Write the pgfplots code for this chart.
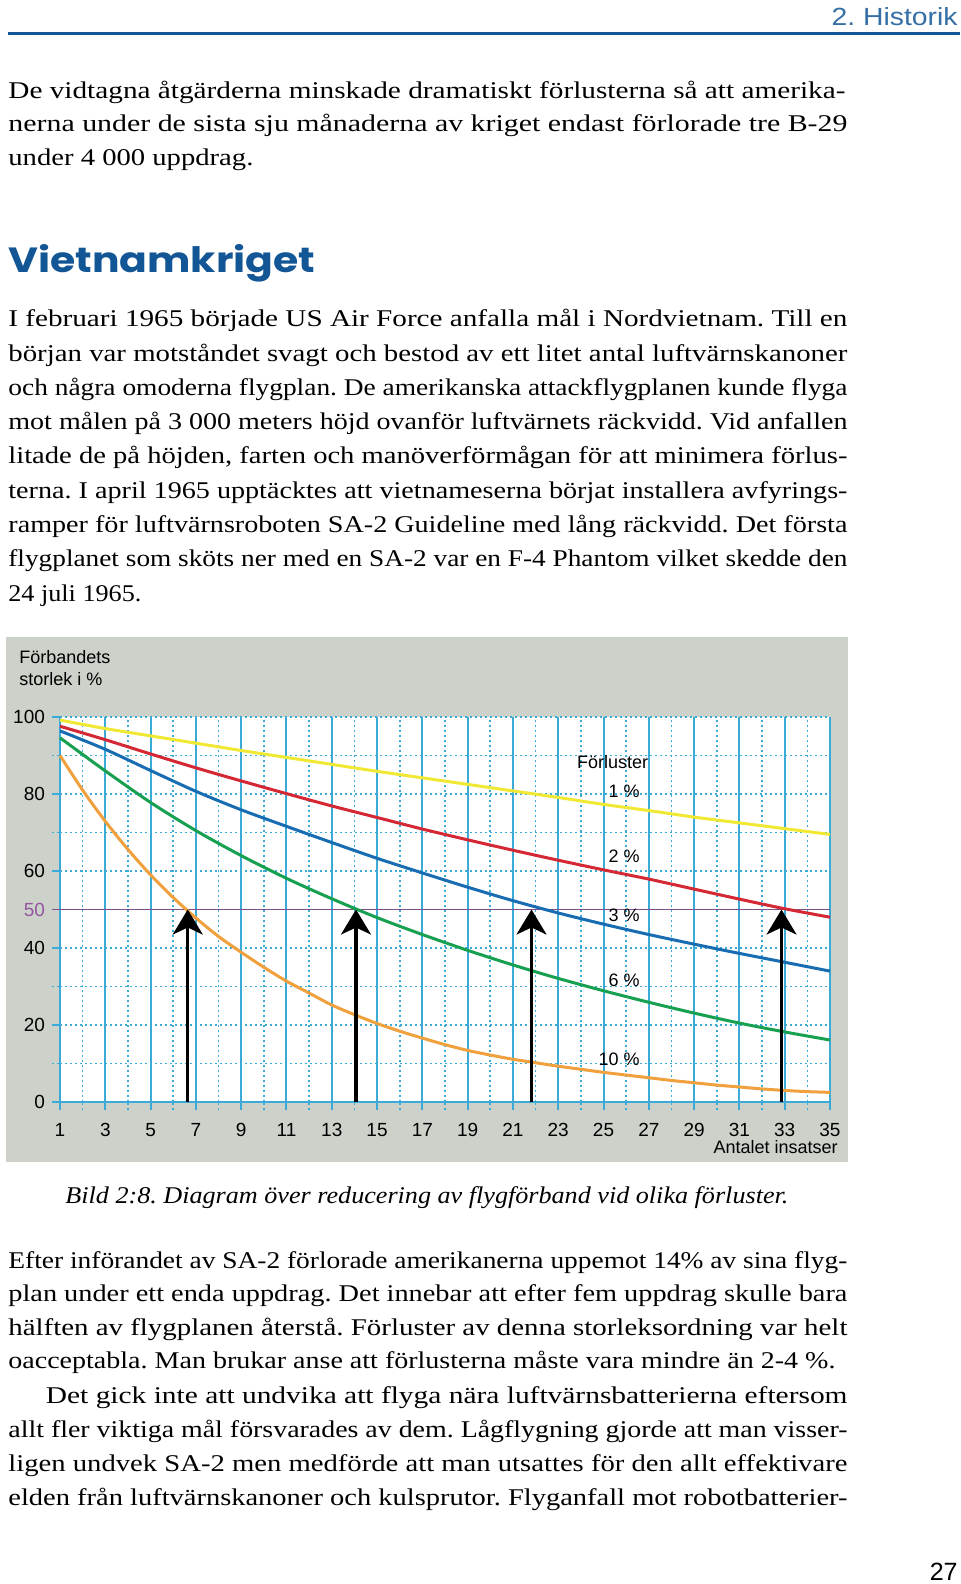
\documentclass[border=0pt]{standalone}
\usepackage{fontspec}
\setmainfont{Liberation Serif}
\setsansfont{Liberation Sans}
\newfontfamily\headfont{Poppins}
\usepackage{graphicx}
\usepackage{pgfplots}
\usepackage{pgfplotstable}
\pgfplotsset{compat=1.18}
\usetikzlibrary{arrows.meta}

\definecolor{bggrey}{RGB}{204,209,202}
\definecolor{gridcyan}{RGB}{60,170,215}
\definecolor{cyel}{RGB}{240,232,50}
\definecolor{cred}{RGB}{212,40,52}
\definecolor{cblue}{RGB}{24,108,178}
\definecolor{cgreen}{RGB}{22,160,80}
\definecolor{corange}{RGB}{240,160,60}
\definecolor{cpurple}{RGB}{125,80,140}
\definecolor{labpurple}{RGB}{150,85,160}
\definecolor{headblue}{RGB}{18,86,150}

\frenchspacing
\newcommand\bodyfont{\fontsize{12pt}{14pt}\selectfont}
% a line of text set to an exact width (scaled horizontally)
\newcommand\jline[2]{\resizebox{#1}{\height}{\bodyfont #2}}

\pgfplotstableread{
x yel red blue green
1 99.2 97.6 96.4 94.6
3 97.0 94.1 91.6 86.0
5 95.1 90.4 86.1 77.8
7 93.2 86.8 80.7 70.5
9 91.3 83.4 75.9 64.0
11 89.5 80.1 71.6 58.1
13 87.7 76.9 67.4 52.8
15 85.9 73.9 63.3 47.9
17 84.2 70.9 59.5 43.5
19 82.5 68.1 55.8 39.4
21 80.8 65.4 52.3 35.6
23 79.1 62.8 49.1 32.1
25 77.3 60.3 46.2 28.9
27 75.7 57.9 43.5 25.9
29 74.0 55.3 41.0 23.1
31 72.5 52.7 38.6 20.5
33 71.0 50.2 36.3 18.2
35 69.5 48.0 34.0 16.1
}\curves

\pgfplotstableread{
x y
1 90.0
2 81.0
3 72.9
4 65.6
5 59.0
6 53.1
7 47.8
8 43.0
9 38.9
10 35.0
11 31.4
12 28.3
13 25.2
14 22.7
15 20.4
16 18.4
17 16.6
18 14.9
19 13.4
20 12.2
21 11.1
22 10.2
23 9.3
24 8.5
25 7.7
26 7.0
27 6.3
28 5.6
29 5.0
30 4.4
31 3.9
32 3.4
33 3.0
34 2.7
35 2.5
}\orange

\begin{document}
\begin{tikzpicture}
\path[use as bounding box] (0,0) rectangle (480pt,-792pt);
\fill[white] (0,0) rectangle (480pt,-792pt);
\begin{scope}[x=0.5pt,y=-0.5pt]
  % header
  \node[anchor=base east, inner sep=0, text=headblue!85!white] at (958,26) {\resizebox{63pt}{9pt}{\sffamily 2. Historik}};
  \draw[headblue, line width=1.5pt] (8,33.5) -- (960,33.5);
  % paragraph 1
  \node[anchor=base west, inner sep=0] at (8,98) {\jline{418.5pt}{De vidtagna åtgärderna minskade dramatiskt förlusterna så att amerika-}};
  \node[anchor=base west, inner sep=0] at (8,131.5) {\jline{419.5pt}{nerna under de sista sju månaderna av kriget endast förlorade tre B-29}};
  \node[anchor=base west, inner sep=0] at (8,165) {\jline{122.5pt}{under 4 000 uppdrag.}};
  % heading
  \node[anchor=base west, inner sep=0, text=headblue] at (8,272) {\resizebox{153.5pt}{\height}{\headfont\bfseries\fontsize{17.5pt}{20pt}\selectfont Vietnamkriget}};
  % paragraph 2
  \node[anchor=base west, inner sep=0] at (8,326.7) {\jline{419.5pt}{I februari 1965 började US Air Force anfalla mål i Nordvietnam. Till en}};
  \node[anchor=base west, inner sep=0] at (8,361) {\jline{419.5pt}{början var motståndet svagt och bestod av ett litet antal luftvärnskanoner}};
  \node[anchor=base west, inner sep=0] at (8,395.3) {\jline{419.5pt}{och några omoderna flygplan. De amerikanska attackflygplanen kunde flyga}};
  \node[anchor=base west, inner sep=0] at (8,429.6) {\jline{419.5pt}{mot målen på 3 000 meters höjd ovanför luftvärnets räckvidd. Vid anfallen}};
  \node[anchor=base west, inner sep=0] at (8,463.9) {\jline{419.5pt}{litade de på höjden, farten och manöverförmågan för att minimera förlus-}};
  \node[anchor=base west, inner sep=0] at (8,498.2) {\jline{419.5pt}{terna. I april 1965 upptäcktes att vietnameserna börjat installera avfyrings-}};
  \node[anchor=base west, inner sep=0] at (8,532.5) {\jline{419.5pt}{ramper för luftvärnsroboten SA-2 Guideline med lång räckvidd. Det första}};
  \node[anchor=base west, inner sep=0] at (8,566.8) {\jline{419.5pt}{flygplanet som sköts ner med en SA-2 var en F-4 Phantom vilket skedde den}};
  \node[anchor=base west, inner sep=0] at (8,601.1) {\jline{66.5pt}{24 juli 1965.}};
  % chart background
  \fill[bggrey] (6,637) rectangle (848,1162);
  \node[anchor=base west, inner sep=0, font=\sffamily\fontsize{9pt}{11pt}\selectfont] at (19,663.3) {Förbandets};
  \node[anchor=base west, inner sep=0, font=\sffamily\fontsize{9pt}{11pt}\selectfont] at (19,685) {storlek i \%};
  \node[anchor=base east, inner sep=0, font=\sffamily\fontsize{9pt}{11pt}\selectfont] at (838,1153) {Antalet insatser};
  % caption
  \node[anchor=base west, inner sep=0] at (65,1203) {\resizebox{361.5pt}{\height}{\bodyfont\itshape Bild 2:8. Diagram över reducering av flygförband vid olika förluster.}};
  % paragraph 3
  \node[anchor=base west, inner sep=0] at (8,1268) {\jline{419.5pt}{Efter införandet av SA-2 förlorade amerikanerna uppemot 14\% av sina flyg-}};
  \node[anchor=base west, inner sep=0] at (8,1301.5) {\jline{419.5pt}{plan under ett enda uppdrag. Det innebar att efter fem uppdrag skulle bara}};
  \node[anchor=base west, inner sep=0] at (8,1335) {\jline{419.5pt}{hälften av flygplanen återstå. Förluster av denna storleksordning var helt}};
  \node[anchor=base west, inner sep=0] at (8,1368.5) {\jline{413.5pt}{oacceptabla. Man brukar anse att förlusterna måste vara mindre än 2-4 \%.}};
  % paragraph 4
  \node[anchor=base west, inner sep=0] at (45.5,1403) {\jline{400.75pt}{Det gick inte att undvika att flyga nära luftvärnsbatterierna eftersom}};
  \node[anchor=base west, inner sep=0] at (8,1437) {\jline{419.5pt}{allt fler viktiga mål försvarades av dem. Lågflygning gjorde att man visser-}};
  \node[anchor=base west, inner sep=0] at (8,1471) {\jline{419.5pt}{ligen undvek SA-2 men medförde att man utsattes för den allt effektivare}};
  \node[anchor=base west, inner sep=0] at (8,1505) {\jline{419.5pt}{elden från luftvärnskanoner och kulsprutor. Flyganfall mot robotbatterier-}};
  % page number
  \node[anchor=base east, inner sep=0, font=\sffamily\fontsize{12.5pt}{14pt}\selectfont] at (958,1580) {27};
\end{scope}

\begin{axis}[
  at={(30pt,-551pt)}, anchor=south west,
  scale only axis, width=385pt, height=192.5pt,
  xmin=1, xmax=35, ymin=0, ymax=100,
  axis lines*=left,
  axis line style={draw=gridcyan, line width=1pt},
  axis background/.style={fill=white},
  xtick={1,3,...,35}, minor xtick={2,4,...,34},
  ytick={0,20,40,60,80,100}, minor ytick={10,30,70,90},
  extra y ticks={50},
  extra y tick style={
    grid=none,
    major tick style={cpurple, line width=0.7pt, solid},
    yticklabel style={text=labpurple}},
  grid=both,
  major grid style={gridcyan, line width=1pt},
  minor grid style={gridcyan, line width=0.8pt, dash pattern=on 1pt off 1.5pt},
  y grid style={dash pattern=on 1pt off 1.5pt},
  tick align=outside,
  major tick length=4pt, minor tick length=4pt,
  major tick style={gridcyan, line width=1pt},
  minor tick style={gridcyan, line width=0.8pt, dash pattern=on 1pt off 1.5pt},
  ticklabel style={font=\sffamily\fontsize{9.5pt}{11pt}\selectfont, text=black},
  /pgf/number format/assume math mode=true,
  xticklabel style={yshift=-3pt},
  clip=false,
]
\draw[cpurple, line width=0.7pt] (axis cs:1,50) -- (axis cs:35,50);
\addplot[cyel, line width=1.5pt, smooth] table[x=x, y=yel] {\curves};
\addplot[cred, line width=1.5pt, smooth] table[x=x, y=red] {\curves};
\addplot[cblue, line width=1.5pt, smooth] table[x=x, y=blue] {\curves};
\addplot[cgreen, line width=1.5pt, smooth] table[x=x, y=green] {\curves};
\addplot[corange, line width=1.5pt, smooth] table[x=x, y=y] {\orange};
\addplot[black, line width=1.6pt, -{Stealth[length=12.5pt, width=15pt, inset=3.5pt]}] coordinates {(6.64,0) (6.64,50)};
\addplot[black, line width=1.6pt, -{Stealth[length=12.5pt, width=15pt, inset=3.5pt]}] coordinates {(14.07,0) (14.07,50)};
\addplot[black, line width=1.6pt, -{Stealth[length=12.5pt, width=15pt, inset=3.5pt]}] coordinates {(21.82,0) (21.82,50)};
\addplot[black, line width=1.6pt, -{Stealth[length=12.5pt, width=15pt, inset=3.5pt]}] coordinates {(32.86,0) (32.86,50)};
\node[anchor=base, inner sep=0, font=\sffamily\fontsize{9pt}{11pt}\selectfont] at (axis cs:25.4,86.75) {Förluster};
\node[anchor=base east, inner sep=0, font=\sffamily\fontsize{9pt}{11pt}\selectfont] at (axis cs:26.61,79.2) {1 \%};
\node[anchor=base east, inner sep=0, font=\sffamily\fontsize{9pt}{11pt}\selectfont] at (axis cs:26.61,62.1) {2 \%};
\node[anchor=base east, inner sep=0, font=\sffamily\fontsize{9pt}{11pt}\selectfont] at (axis cs:26.61,47.0) {3 \%};
\node[anchor=base east, inner sep=0, font=\sffamily\fontsize{9pt}{11pt}\selectfont] at (axis cs:26.61,29.9) {6 \%};
\node[anchor=base east, inner sep=0, font=\sffamily\fontsize{9pt}{11pt}\selectfont] at (axis cs:26.61,9.6) {10 \%};
\end{axis}
\end{tikzpicture}
\end{document}
